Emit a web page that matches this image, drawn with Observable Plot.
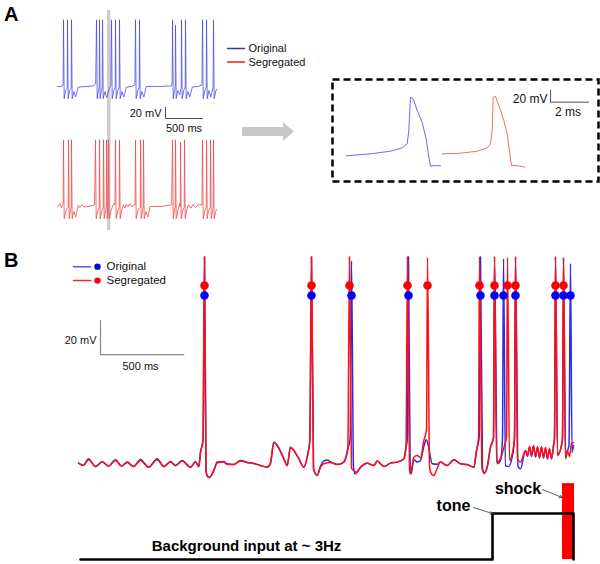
<!DOCTYPE html>
<html><head><meta charset="utf-8">
<script src="https://cdn.jsdelivr.net/npm/d3@7"></script>
<script src="https://cdn.jsdelivr.net/npm/@observablehq/plot@0.6"></script>
<style>
body{margin:0;background:#fff;font-family:"Liberation Sans",Arial,sans-serif;}
#fig{position:relative;width:600px;height:564px;overflow:hidden;background:#fff;}
#fig svg{position:absolute;}
.lbl{position:absolute;font-weight:bold;font-size:20px;line-height:20px;}
.garrow{position:absolute;left:242px;top:122px;width:52px;height:19px;background:#c8c8c8;clip-path:polygon(0 5px,41px 5px,41px 0,52px 9.5px,41px 19px,41px 14px,0 14px);}
</style></head><body>
<div id="fig"><div class="lbl" style="left:4px;top:4px">A</div><div class="lbl" style="left:4px;top:250px">B</div><div class="garrow"></div></div>
<script>
// ---------- DATA ----------
// Panel A: membrane potential traces [time ms, mV]
const origA = [[0,-65],[60,-65],[76,-60],[81,55],[90,-87],[110,-72],[131,-68],[135,55],[144,-87],[165,-72],[185,-68],[189,55],[198,-87],[220,-74],[245,-84],[280,-66],[380,-65],[480,-64],[515,-60],[527,55],[536,-87],[552,-72],[563,-66],[567,55],[576,-87],[592,-72],[604,-66],[608,55],[617,-87],[640,-74],[665,-85],[700,-68],[720,-63],[729,55],[738,-87],[760,-72],[779,-66],[783,55],[792,-87],[814,-72],[833,-66],[837,55],[846,-87],[870,-74],[895,-84],[930,-66],[1000,-65],[1045,-62],[1053,55],[1062,-87],[1085,-72],[1103,-66],[1107,55],[1116,-87],[1140,-74],[1165,-84],[1200,-65],[1350,-65],[1540,-64],[1548,-58],[1553,55],[1562,-87],[1580,-72],[1589,-66],[1593,45],[1602,-87],[1625,-72],[1650,-80],[1670,-66],[1674,55],[1683,-87],[1705,-72],[1724,-66],[1728,55],[1737,-87],[1760,-74],[1785,-84],[1820,-66],[1900,-65],[1950,-62],[1958,55],[1967,-87],[1990,-72],[2008,-66],[2012,55],[2021,-87],[2045,-72],[2070,-84],[2100,-66],[2106,55],[2115,-87],[2135,-74],[2147,-70]];
const segA = [[0,-65],[30,-60],[50,-67],[70,-62],[76,-60],[81,55],[90,-87],[115,-72],[145,-66],[149,55],[158,-87],[175,-72],[185,-66],[189,55],[198,-87],[220,-74],[245,-84],[280,-63],[300,-67],[330,-62],[360,-66],[420,-65],[500,-62],[513,55],[522,-87],[545,-72],[563,-66],[567,55],[576,-87],[600,-72],[617,-66],[621,55],[630,-87],[650,-72],[658,-66],[662,55],[671,-87],[683,-70],[689,55],[698,-87],[720,-74],[740,-66],[760,-60],[775,-62],[783,55],[792,-87],[815,-72],[833,-66],[837,55],[846,-87],[870,-70],[890,-62],[910,-68],[930,-61],[950,-66],[975,-60],[1000,-66],[1030,-62],[1047,-62],[1053,55],[1062,-87],[1085,-72],[1117,-66],[1121,55],[1130,-87],[1150,-72],[1157,-66],[1161,55],[1170,-87],[1195,-74],[1220,-84],[1250,-65],[1400,-65],[1540,-62],[1553,55],[1562,-87],[1580,-72],[1589,-66],[1593,55],[1602,-87],[1625,-72],[1650,-60],[1657,-66],[1661,50],[1670,-87],[1690,-72],[1711,-66],[1715,55],[1724,-87],[1745,-70],[1770,-62],[1800,-68],[1830,-61],[1860,-67],[1900,-62],[1950,-62],[1958,55],[1967,-87],[1990,-72],[2008,-66],[2012,55],[2021,-87],[2040,-72],[2062,-66],[2066,55],[2075,-87],[2095,-72],[2102,-66],[2106,55],[2115,-87],[2135,-74],[2147,-70]];
const zoomWindowA = [675, 722]; // ms, highlighted window
// Panel A inset: single spikes [ms, mV]
const origSpike = [[0,-62],[1.263,-58.7],[2.316,-54.3],[2.932,-48.7],[3.195,-42],[3.279,-19.8],[3.368,35.7],[3.511,33],[3.721,13.5],[3.984,-6.1],[4.211,-36.6],[4.332,-64.3],[4.421,-79.3],[4.684,-78.2],[4.947,-78.7]];
const segSpike = [[5.037,-58.7],[6.0,-57.7],[6.879,-54.3],[7.405,-48.7],[7.579,-42],[7.668,-19.8],[7.721,35.7],[7.842,36.9],[8.016,21.9],[8.279,-3.2],[8.458,-25.3],[8.595,-58.7],[8.684,-78.2],[8.984,-78.2],[9.384,-81]];
// Panel B traces [ms, mV]
const segB = [[0,-64.8],[30,-66.2],[60,-62.8],[102,-66.8],[142,-64.2],[180,-66.5],[222,-63.2],[258,-66.5],[292,-64.4],[330,-66.8],[372,-63.2],[420,-67.2],[472,-62.8],[512,-66.8],[552,-64.2],[582,-66.2],[622,-63.6],[672,-67.2],[702,-64.2],[722,-66.8],[732,-58.4],[747,-51.5],[756,56.7],[765,-69.1],[774,-72.6],[786,-73.2],[812,-69.1],[832,-64.8],[870,-64.2],[892,-65.6],[930,-65.6],[972,-63.6],[1012,-64.4],[1052,-65],[1092,-66.2],[1132,-67.2],[1152,-64.8],[1172,-52.5],[1192,-54.4],[1232,-62.2],[1252,-66.2],[1272,-55.4],[1292,-57.4],[1322,-62.2],[1352,-67.2],[1372,-61.3],[1388,-51.5],[1398,56.7],[1410,-67.9],[1422,-71.1],[1432,-72.1],[1452,-67.2],[1472,-65.2],[1512,-64.4],[1552,-65.6],[1592,-64.2],[1616,-56.4],[1626,56.7],[1638,-67.9],[1672,-70.1],[1692,-67.2],[1732,-64.8],[1772,-66.2],[1792,-63.6],[1832,-66.8],[1872,-64.8],[1912,-64.2],[1952,-62.2],[1965,-55.4],[1974,56.7],[1986,-69.1],[1992,-71.1],[2012,-61.3],[2032,-60.3],[2052,-61.6],[2072,-51.5],[2088,-45],[2094,56.1],[2106,-66.2],[2112,-70.1],[2132,-72.1],[2152,-67.9],[2172,-64.2],[2212,-66.2],[2252,-62.8],[2292,-65.2],[2332,-65.6],[2372,-67.2],[2388,-57.4],[2400,-50],[2406,56.7],[2421,-67.9],[2432,-70.7],[2452,-67.2],[2472,-55.4],[2490,-50],[2496,56.7],[2508,-64.4],[2532,-62.1],[2556,-54.4],[2568,-50],[2574,56],[2586,-63.2],[2604,-58.5],[2616,-50],[2622,56.7],[2634,-62.1],[2652,-64.2],[2682,-57.4],[2694,-60.3],[2706,-55],[2718,-60.3],[2730,-54.4],[2742,-60.9],[2754,-55],[2766,-61.5],[2778,-55],[2790,-61.5],[2802,-55.6],[2814,-62.1],[2826,-56.2],[2838,-62.1],[2850,-54.4],[2856,-50],[2862,56.7],[2874,-60.3],[2886,-58.5],[2898,-54.4],[2904,-50],[2910,56],[2922,-62.1],[2934,-57.4],[2946,-60.9],[2958,-53.2],[2970,-52.7]];
const origB = [[0,-64.8],[30,-66],[60,-62.2],[102,-66.8],[142,-64],[180,-66.5],[222,-62.8],[258,-66.5],[292,-64.2],[330,-66.8],[372,-62.6],[420,-67.2],[472,-62.2],[512,-66.8],[552,-63.8],[582,-66.2],[622,-63.2],[672,-67.2],[702,-63.8],[722,-66.8],[732,-58.4],[747,-51.5],[756,56.7],[765,-69.1],[774,-72.6],[786,-73.2],[812,-69.1],[832,-64.2],[870,-63.8],[892,-65.2],[930,-65.6],[972,-63.2],[1012,-64.4],[1052,-65],[1092,-66.2],[1132,-67.2],[1152,-64.8],[1172,-52.5],[1192,-54.4],[1232,-62.2],[1252,-66.2],[1272,-55.4],[1292,-57.4],[1322,-62.2],[1352,-67.2],[1372,-61.3],[1388,-51.5],[1398,56.7],[1410,-67.9],[1422,-71.1],[1432,-72.1],[1452,-66.5],[1472,-63.6],[1492,-63],[1512,-64],[1552,-65.6],[1592,-64.2],[1616,-56.4],[1630,-50],[1638,54.3],[1650,-66.8],[1658,-71.1],[1692,-67.2],[1732,-64.8],[1772,-66.2],[1792,-63.6],[1832,-66.8],[1872,-64.8],[1912,-64.2],[1952,-62.2],[1965,-55.4],[1974,-50],[1980,56.7],[1990,-70],[1996,-71.1],[2012,-62.6],[2032,-64.2],[2052,-63.2],[2072,-55],[2086,-51.1],[2100,-55],[2122,-65.2],[2152,-65.5],[2172,-64.2],[2212,-66.2],[2252,-62.8],[2292,-65.2],[2332,-65.6],[2372,-67.2],[2388,-57.4],[2404,-50],[2412,56.7],[2424,-67.9],[2436,-70.7],[2452,-67.2],[2472,-55.4],[2490,-50],[2496,56.7],[2512,-65.2],[2532,-63.2],[2544,-50],[2550,55.5],[2562,-66.2],[2580,-66.8],[2604,-60.3],[2616,-50],[2622,56.7],[2637,-66.8],[2652,-68.1],[2682,-57.4],[2694,-60.9],[2706,-55.4],[2718,-60.9],[2730,-54.8],[2742,-61.2],[2754,-55.4],[2766,-61.8],[2778,-55.4],[2790,-61.8],[2802,-56],[2814,-62.4],[2826,-56.6],[2838,-62.4],[2850,-54.8],[2856,-50],[2862,56.7],[2874,-60.3],[2886,-58.5],[2898,-54.4],[2904,-50],[2910,56],[2922,-62.1],[2934,-57.4],[2943,-54.4],[2952,52.6],[2961,-58.5],[2970,-54.4]];
// detected spike times (ms)
const segSpikeTimes = [756, 1398, 1626, 1974, 2094, 2406, 2496, 2574, 2622, 2862, 2910];
const origSpikeTimes = [756, 1398, 1638, 1980, 2412, 2496, 2550, 2622, 2862, 2910, 2952];
// stimulus protocol (ms, input level: 0 background, 1 tone)
const stimT = [12, 2484, 2970];
const stimLevel = [0, 1, 0];
const shockT = [2904, 2976];
const shockLevel = 1.65;
const seriesNames = ["Original", "Segregated"];
const scaleA = {ms: 500, mV: 20};
const scaleInset = {ms: 2, mV: 20};
const scaleB = {ms: 500, mV: 20};

// ---------- DRAW ----------
const fig = document.getElementById("fig");
const font = "Liberation Sans, Arial, sans-serif";
const st = {background: "transparent", overflow: "visible", fontFamily: font};
const BLUE_A = "#4d4de3", RED_A = "#f04a4a";
const X = d => d[0], Y = d => d[1];
function place(svg, left, top) { svg.style.left = left + "px"; svg.style.top = top + "px"; fig.appendChild(svg); }

// scale bar helper: vertical then horizontal from corner (t0, v0)
function scaleBar(t0, v0, s, stroke, sw) {
  return Plot.line([[t0, v0 + s.mV], [t0, v0], [t0 + s.ms, v0]], {x: X, y: Y, stroke, strokeWidth: sw});
}

// Panel A, original
const a1 = Plot.plot({
  width: 330, height: 132, margin: 0, style: st,
  x: {domain: [-769.5, 3685.5], axis: null},
  y: {domain: [-147.8, 89.8], axis: null},
  marks: [
    Plot.rect([zoomWindowA], {x1: d => d[0], x2: d => d[1], y1: () => 71.8, y2: () => -147.8, fill: "#cdcdcd"}),
    Plot.line(origA, {x: X, y: Y, stroke: BLUE_A, strokeWidth: 0.8}),
    scaleBar(1458, -122.6, scaleA, "#222", 0.8),
    Plot.text([scaleA.mV + " mV"], {x: () => 1404, y: () => -113.6, text: d => d, textAnchor: "end", fontSize: 11, fill: "#111"}),
    Plot.text([scaleA.ms + " ms"], {x: () => 1458 + scaleA.ms / 2, y: () => -140.6, text: d => d, fontSize: 11, fill: "#111"}),
    Plot.line([[2295, 3.4], [2524.5, 3.4]], {x: X, y: Y, stroke: "#3333cc", strokeWidth: 1.6}),
    Plot.line([[2295, -20.9], [2524.5, -20.9]], {x: X, y: Y, stroke: "#e82020", strokeWidth: 1.6}),
    Plot.text(seriesNames, {x: () => 2578.5, y: (d, i) => [3.4, -20.9][i], text: d => d, textAnchor: "start", fontSize: 11, fill: "#111"})
  ]
});
place(a1, 0, 0);

// Panel A, segregated
const a2 = Plot.plot({
  width: 330, height: 108, margin: 0, style: st,
  x: {domain: [-769.5, 3685.5], axis: null},
  y: {domain: [-126.2, 68.2], axis: null},
  marks: [
    Plot.rect([zoomWindowA], {x1: d => d[0], x2: d => d[1], y1: () => 68.2, y2: () => -108.2, fill: "#cdcdcd"}),
    Plot.line(segA, {x: X, y: Y, stroke: RED_A, strokeWidth: 0.8})
  ]
});
place(a2, 0, 132);

// Panel A inset
const ai = Plot.plot({
  width: 270, height: 106, margin: 2, style: st,
  x: {domain: [-0.737, 13.263], axis: null},
  y: {domain: [-104.8, 65.2], axis: null},
  marks: [
    Plot.frame({stroke: "#000", strokeWidth: 2.5, strokeDasharray: "7,4"}),
    Plot.line(origSpike, {x: X, y: Y, stroke: "#5a5ae6", strokeWidth: 0.9}),
    Plot.line(segSpike, {x: X, y: Y, stroke: "#f05a5a", strokeWidth: 0.9}),
    scaleBar(10.74, 27.4, scaleInset, "#222", 0.8),
    Plot.text([scaleInset.mV + " mV"], {x: () => 10.58, y: () => 33, text: d => d, textAnchor: "end", fontSize: 12, fill: "#111"}),
    Plot.text([scaleInset.ms + " ms"], {x: () => 11.66, y: () => 10.7, text: d => d, fontSize: 12, fill: "#111"})
  ]
});
place(ai, 330, 77);

// Panel B traces
const b = Plot.plot({
  width: 600, height: 242, margin: 0, style: st,
  x: {domain: [-468, 3132], axis: null},
  y: {domain: [-76.2, 66.2], axis: null},
  marks: [
    Plot.line(origB, {x: X, y: Y, stroke: "#2a2af0", strokeWidth: 1.5, curve: "monotone-x"}),
    Plot.line(segB, {x: X, y: Y, stroke: "#ff1010", strokeWidth: 1.5, curve: "monotone-x"}),
    Plot.dot(segSpikeTimes, {x: d => d, y: () => 39.7, r: 4.3, fill: "#ff0000", stroke: "none"}),
    Plot.dot(origSpikeTimes, {x: d => d, y: () => 33.8, r: 4.3, fill: "#0000ff", stroke: "none"}),
    scaleBar(132, -0.9, scaleB, "#8a8a8a", 1.2),
    Plot.text([scaleB.mV + " mV"], {x: () => 108, y: () => 7.3, text: d => d, textAnchor: "end", fontSize: 11, fill: "#111"}),
    Plot.text([scaleB.ms + " ms"], {x: () => 132 + scaleB.ms / 2 - 10, y: () => -7.9, text: d => d, fontSize: 11, fill: "#111"}),
    Plot.line([[-30, 50.8], [72, 50.8]], {x: X, y: Y, stroke: "#5555ff", strokeWidth: 1.5}),
    Plot.line([[-30, 42.6], [72, 42.6]], {x: X, y: Y, stroke: "#ff2020", strokeWidth: 1.5}),
    Plot.dot([50.8], {x: () => 114, y: d => d, r: 3.2, fill: "#0000ff", stroke: "none"}),
    Plot.dot([42.6], {x: () => 114, y: d => d, r: 3.2, fill: "#ff0000", stroke: "none"}),
    Plot.text(seriesNames, {x: () => 168, y: (d, i) => [50.8, 42.6][i], text: d => d, textAnchor: "start", fontSize: 11.5, fill: "#111"})
  ]
});
place(b, 0, 240);

// Panel B stimulus
const stim = stimT.map((t, i) => [t, stimLevel[i]]);
const s = Plot.plot({
  width: 600, height: 82, margin: 0, style: st,
  x: {domain: [-468, 3132], axis: null},
  y: {domain: [-0.109, 1.674], axis: null},
  marks: [
    Plot.rect([shockT], {x1: d => d[0], x2: d => d[1], y1: () => 0, y2: () => shockLevel, fill: "#ff0000"}),
    Plot.line(stim, {x: X, y: Y, curve: "step-after", stroke: "#000", strokeWidth: 2.6}),
    Plot.text(["Background input at ~ 3Hz"], {x: () => 1008, y: () => 0.30, text: d => d, fontSize: 15, fontWeight: "bold", fill: "#000"}),
    Plot.text(["tone"], {x: () => 2250, y: () => 1.17, text: d => d, fontSize: 16, fontWeight: "bold", fill: "#000"}),
    Plot.text(["shock"], {x: () => 2637, y: () => 1.54, text: d => d, fontSize: 16, fontWeight: "bold", fill: "#000"}),
    Plot.arrow([[2370, 1.13, stimT[1], 1.0]], {x1: d => d[0], y1: d => d[1], x2: d => d[2], y2: d => d[3], stroke: "#333", strokeWidth: 0.8, headLength: 5}),
    Plot.arrow([[2784, 1.52, shockT[0] - 4, 1.35]], {x1: d => d[0], y1: d => d[1], x2: d => d[2], y2: d => d[3], stroke: "#333", strokeWidth: 0.8, headLength: 5})
  ]
});
place(s, 0, 482);
</script>
</body></html>
